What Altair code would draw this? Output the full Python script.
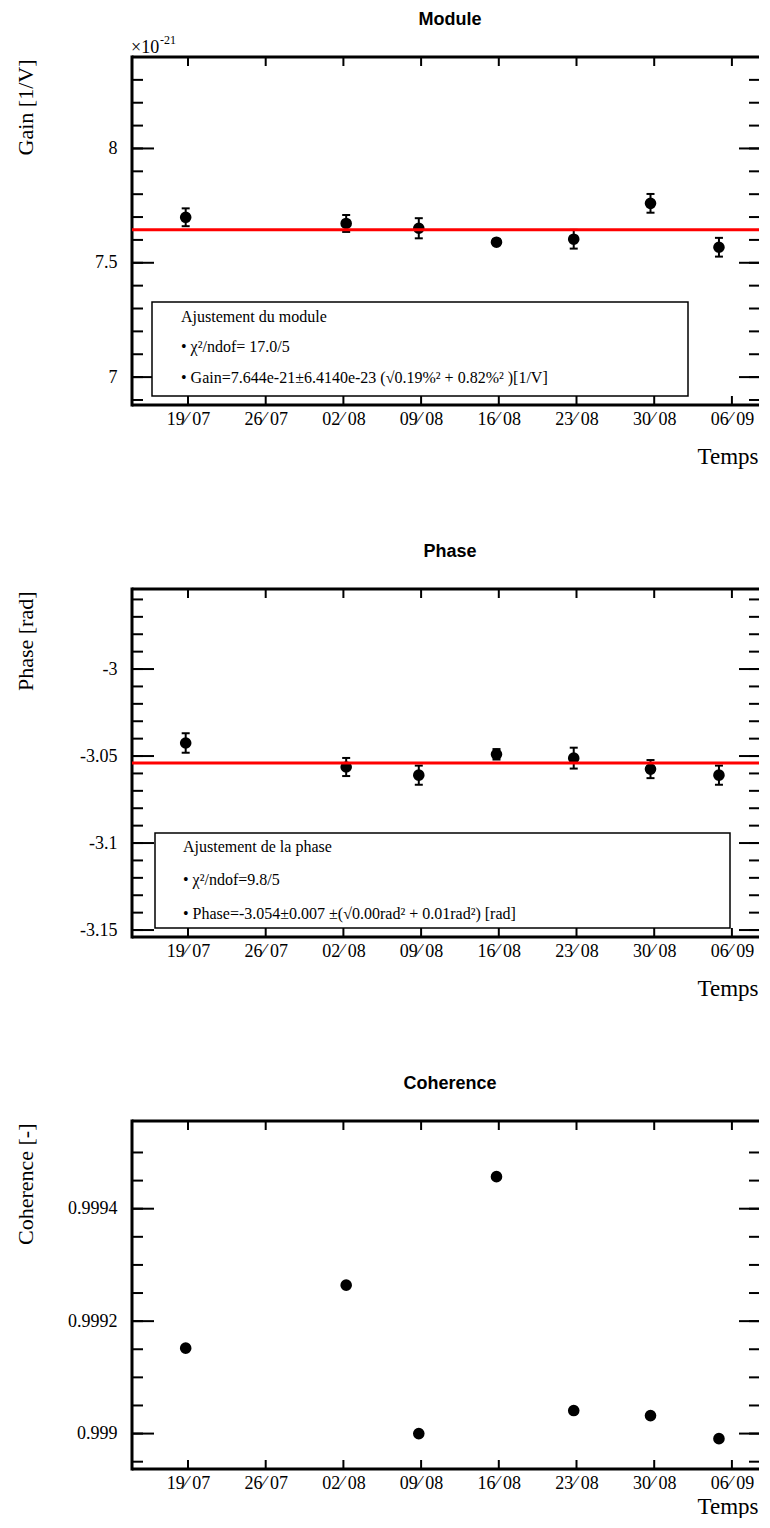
import altair as alt
import pandas as pd

# ---------------- data ----------------
dates = ["2009-07-18T19:00:00Z", "2009-08-02T06:00:00Z", "2009-08-08T19:00:00Z",
         "2009-08-15T19:00:00Z", "2009-08-22T18:00:00Z", "2009-08-29T16:00:00Z",
         "2009-09-04T20:00:00Z"]
gain = [7.699, 7.672, 7.651, 7.590, 7.603, 7.760, 7.568]          # x 1e-21 [1/V]
gain_err = [0.039, 0.037, 0.044, 0.012, 0.041, 0.041, 0.041]
phase = [-3.0425, -3.0563, -3.0610, -3.0490, -3.0512, -3.0575, -3.0610]
phase_err = [0.0056, 0.0052, 0.0055, 0.0030, 0.0060, 0.0052, 0.0055]
coherence = [0.999152, 0.999264, 0.999000, 0.999457, 0.999041, 0.999032, 0.998991]

gain_fit = 7.644
phase_fit = -3.054

x_ticks = ["2009-07-19", "2009-07-26", "2009-08-02", "2009-08-09",
           "2009-08-16", "2009-08-23", "2009-08-30", "2009-09-06"]
x_domain = ["2009-07-13T22:55:00Z", "2009-09-08T10:35:00Z"]

gain_major = [7.0, 7.5, 8.0]
gain_minor = [6.9, 7.0, 7.1, 7.2, 7.3, 7.4, 7.5, 7.6, 7.7, 7.8, 7.9, 8.0, 8.1, 8.2, 8.3]
gain_domain = [6.878, 8.40]

phase_major = [-3.15, -3.1, -3.05, -3.0]
phase_minor = [-3.15, -3.14, -3.13, -3.12, -3.11, -3.10, -3.09, -3.08, -3.07, -3.06,
               -3.05, -3.04, -3.03, -3.02, -3.01, -3.00, -2.99, -2.98, -2.97, -2.96]
phase_domain = [-3.154, -2.954]

coh_major = [0.999, 0.9992, 0.9994]
coh_minor = [0.99895, 0.999, 0.99905, 0.9991, 0.99915, 0.9992, 0.99925, 0.9993,
             0.99935, 0.9994, 0.99945, 0.9995]
coh_domain = [0.998937, 0.999556]

gain_legend = ["Ajustement du module",
               "\u2022 \u03c7\u00b2/ndof= 17.0/5",
               "\u2022 Gain=7.644e-21\u00b16.4140e-23 (\u221a0.19%\u00b2 + 0.82%\u00b2 )[1/V]"]
phase_legend = ["Ajustement de la phase",
                "\u2022 \u03c7\u00b2/ndof=9.8/5",
                "\u2022 Phase=-3.054\u00b10.007 \u00b1(\u221a0.00rad\u00b2 + 0.01rad\u00b2) [rad]"]

# ---------------- layout constants ----------------
W = 627
H = 348
SERIF = "Liberation Serif"
SANS = "Liberation Sans"


def ms(s):
    return int(pd.Timestamp(s).value // 10**6)


t_ms = [ms(d) for d in dates]
xt_ms = [ms(d) for d in x_ticks]
xdom_ms = [ms(d) for d in x_domain]
xscale = alt.Scale(type="utc", domain=xdom_ms, nice=False)
ONE = pd.DataFrame({"a": [0]})


def txt(s, x, y, size=16, font=SERIF, weight="normal", align="left"):
    return alt.Chart(pd.DataFrame({"s": [s]})).mark_text(
        align=align, baseline="alphabetic", font=font, fontSize=size,
        fontWeight=weight, color="black"
    ).encode(x=alt.value(x), y=alt.value(y), text="s:N")


def panel(title, ytitle, values, ydomain, major, minor, err=None, fit=None,
          legend=None, box=None, text_pos=None, exponent=False, temps_y=58):
    yscale = alt.Scale(domain=ydomain, nice=False, zero=False)
    df = pd.DataFrame({"t": t_ms, "v": values})

    # the layer that carries the axes comes first
    points = alt.Chart(df).mark_circle(size=135, color="black", opacity=1).encode(
        x=alt.X("t:T", scale=xscale, axis=alt.Axis(
            values=xt_ms, labelExpr="utcFormat(datum.value, '%d\u2044 %m')",
            domain=False, ticks=False, tickSize=0, labelPadding=5,
            labelFontSize=18, labelFont=SERIF, labelColor="black",
            title="Temps", titleFont=SERIF, titleFontSize=23,
            titleFontWeight="normal", titleColor="black",
            titleAnchor="end", titleAlign="right", titleBaseline="alphabetic",
            titleX=W - 1, titleY=temps_y, orient="bottom")),
        y=alt.Y("v:Q", scale=yscale, axis=alt.Axis(
            values=major, labelExpr="'' + datum.value",
            domain=False, ticks=False, tickSize=0, labelPadding=15,
            labelFontSize=18, labelFont=SERIF, labelColor="black",
            title=ytitle, titleFont=SERIF, titleFontSize=22,
            titleFontWeight="normal", titleColor="black",
            titleAnchor="end", titleAlign="right", titleAngle=-90,
            titleBaseline="alphabetic", titleX=-100, titleY=2, orient="left")),
    )

    layers = []
    # frame: left, top, bottom (right side lies at the page edge)
    layers.append(alt.Chart(ONE).mark_rule(color="black", strokeWidth=3).encode(
        x=alt.value(0), y=alt.value(-1.5), y2=alt.value(H + 1.5)))
    for yy in (0, H):
        layers.append(alt.Chart(ONE).mark_rule(color="black", strokeWidth=3).encode(
            x=alt.value(0), x2=alt.value(W), y=alt.value(yy)))

    dmaj = pd.DataFrame({"v": major})
    dmin = pd.DataFrame({"v": minor})
    dxt = pd.DataFrame({"t": xt_ms})
    yenc = alt.Y("v:Q", scale=yscale, axis=None)
    xenc = alt.X("t:T", scale=xscale, axis=None)
    # inward ticks, left/right
    for d, l_len, r_len in [(dmin, 11, 10), (dmaj, 22, 20)]:
        layers.append(alt.Chart(d).mark_rule(color="black", strokeWidth=2).encode(
            y=yenc, x=alt.value(0), x2=alt.value(l_len)))
        layers.append(alt.Chart(d).mark_rule(color="black", strokeWidth=2).encode(
            y=yenc, x=alt.value(W - r_len), x2=alt.value(W)))
    # inward ticks, top/bottom
    layers.append(alt.Chart(dxt).mark_rule(color="black", strokeWidth=2).encode(
        x=xenc, y=alt.value(0), y2=alt.value(9)))
    layers.append(alt.Chart(dxt).mark_rule(color="black", strokeWidth=2).encode(
        x=xenc, y=alt.value(H - 9), y2=alt.value(H)))

    if err is not None:
        df["lo"] = [v - e for v, e in zip(values, err)]
        df["hi"] = [v + e for v, e in zip(values, err)]
        layers.append(alt.Chart(df).mark_rule(color="black", strokeWidth=2).encode(
            x=xenc, y=alt.Y("lo:Q", scale=yscale, axis=None), y2="hi:Q"))
        for f in ["lo", "hi"]:
            layers.append(alt.Chart(df).mark_tick(
                color="black", orient="horizontal", size=8, thickness=2, opacity=1
            ).encode(x=xenc, y=alt.Y(f + ":Q", scale=yscale, axis=None)))

    if fit is not None:
        layers.append(alt.Chart(pd.DataFrame({"v": [fit]})).mark_rule(
            color="#ff0000", strokeWidth=3).encode(y=yenc))

    if legend is not None:
        x0, x1, y0, y1 = box
        layers.append(alt.Chart(ONE).mark_rect(
            fill="white", stroke="black", strokeWidth=1.5).encode(
            x=alt.value(x0), x2=alt.value(x1), y=alt.value(y0), y2=alt.value(y1)))
        tx, ty = text_pos
        for i, line in enumerate(legend):
            layers.append(txt(line, tx, ty[i]))

    layers.append(txt(title, 318, -32, size=18, font=SANS, weight="bold",
                      align="center"))
    if exponent:
        layers.append(txt("\u00d710", -1, -4, size=18))
        layers.append(txt("-21", 28, -13, size=12))

    return alt.layer(points, *layers).resolve_axis(
        x="independent", y="independent").properties(width=W, height=H)


p1 = panel("Module", "Gain [1/V]", gain, gain_domain, gain_major, gain_minor,
           err=gain_err, fit=gain_fit, legend=gain_legend,
           box=(20, 556, 245, 339), text_pos=(49, [265, 295, 326]), exponent=True)
p2 = panel("Phase", "Phase [rad]", phase, phase_domain, phase_major, phase_minor,
           err=phase_err, fit=phase_fit, legend=phase_legend,
           box=(23, 598, 244, 339), text_pos=(51, [263, 296, 330]))
p3 = panel("Coherence", "Coherence [-]", coherence, coh_domain, coh_major, coh_minor,
           temps_y=44)

chart = alt.vconcat(p1, p2, p3, spacing=75).properties(
    padding={"left": 5, "top": 3, "right": 0, "bottom": 0}
).configure_view(strokeWidth=0).configure_axis(grid=False)

chart.save("out.html", embed_options={"renderer": "svg", "actions": False})
